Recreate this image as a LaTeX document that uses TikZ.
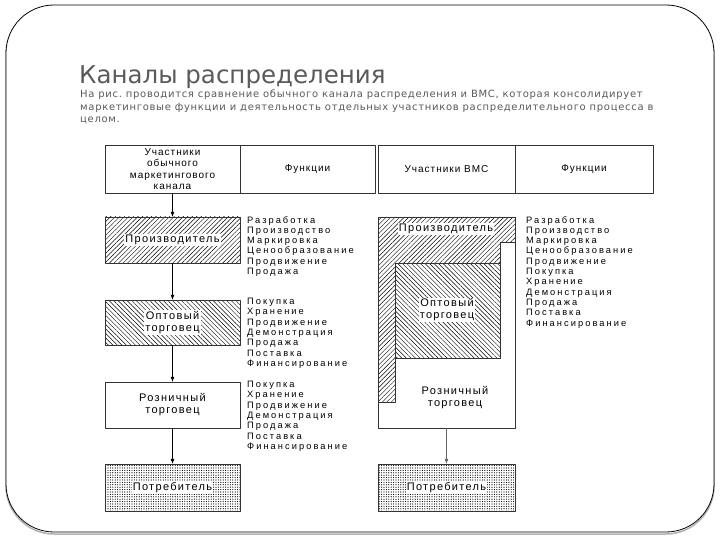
\documentclass[tikz,border=0pt]{standalone}
\usepackage{fontspec}
\setmainfont{DejaVu Sans}
\newfontfamily\boxfont[LetterSpace=10]{Liberation Sans}
\newfontfamily\tagfont[LetterSpace=12]{Liberation Sans}
\newfontfamily\listfont[LetterSpace=22]{Liberation Sans}
\newfontfamily\notefont[LetterSpace=7]{DejaVu Sans}
\usetikzlibrary{patterns.meta,arrows.meta}
\definecolor{slidegray}{RGB}{90,90,90}
\frenchspacing
\tikzset{
  cell/.style={draw=black!80, fill=white, minimum width=135pt, minimum height=48pt, inner sep=0pt, align=center, font=\boxfont\fontsize{10}{11.5}\selectfont},
  unit/.style={draw=black!80, minimum width=135pt, minimum height=46pt, inner sep=0pt},
  tag/.style={fill=white, inner sep=1pt, align=center, font=\tagfont\fontsize{11}{12}\selectfont},
  funcs/.style={anchor=north west, align=left, inner sep=0pt, font=\listfont\fontsize{9.3}{10.3}\selectfont},
  flow/.style={-{Latex[length=5pt,width=4pt]}, line width=0.6pt},
  neline/.style={pattern={Lines[angle=45,distance=3.2pt,line width=0.45pt]}},
  nwline/.style={pattern={Lines[angle=-45,distance=3.2pt,line width=0.45pt]}},
  dotfill/.style={pattern={Dots[distance=2.4pt,radius=0.6pt]}},
}
\begin{document}
\begin{tikzpicture}[x=1pt,y=-1pt,line join=round]
\useasboundingbox (0,0) rectangle (720,540);
% Slide
\draw[gray!60, line width=1.5pt, rounded corners=48pt] (6,7) rectangle (714,534);
\draw[fill=white, line width=0.8pt, rounded corners=48pt] (6,5) rectangle (714,532);
\node[anchor=base west, inner sep=0pt, text=slidegray, font=\fontsize{24.5}{29}\selectfont] (title) at (79,84) {Каналы распределения};
\node[anchor=north west, inner sep=0pt, align=left, text=slidegray, font=\notefont\fontsize{10}{12.5}\selectfont] (note) at (80,90)
  {На рис. проводится сравнение обычного канала распределения и ВМС, которая консолидирует\\
   маркетинговые функции и деятельность отдельных участников распределительного процесса в\\
   целом.};

% Header
\node[cell] (chA) at (172.5,169) {Участники\\обычного\\маркетингового\\канала};
\node[cell] (chB) at (307.5,169) {Функции};
\node[cell, minimum width=137pt] (vmA) at (446.5,169) {Участники ВМС};
\node[cell, minimum width=138pt] (vmB) at (584,169) {Функции};

% Conventional channel
\node[unit, neline] (prodA) at (172.5,240) {};
\node[tag] at (prodA) {Производитель};
\node[unit, nwline, minimum height=45pt] (wholeA) at (172.5,322.5) {};
\node[tag] at (wholeA) {Оптовый\\торговец};
\node[unit, fill=white] (retA) at (172.5,405) {};
\node[tag] at (retA) {Розничный\\торговец};
\node[unit, dotfill, minimum height=47pt] (consA) at (172.5,487.5) {};
\node[tag] at (consA) {Потребитель};
\draw[flow] (chA) -- (prodA);
\draw[flow] (prodA) -- (wholeA);
\draw[flow] (wholeA) -- (retA);
\draw[flow] (retA) -- (consA);

\node[funcs] (fnProd) at (247,216) {Разработка\\Производство\\Маркировка\\Ценообразование\\Продвижение\\Продажа};
\node[funcs] (fnWhole) at (247,298) {Покупка\\Хранение\\Продвижение\\Демонстрация\\Продажа\\Поставка\\Финансирование};
\node[funcs] (fnRet) at (247,381) {Покупка\\Хранение\\Продвижение\\Демонстрация\\Продажа\\Поставка\\Финансирование};

% VMS
\node[unit, fill=white, minimum width=137pt, minimum height=211pt] (retB) at (446.5,322.5) {};
\draw[black!80, neline] (378,217) -- (515,217) -- (515,242) -- (500,242) -- (500,263) -- (395,263) -- (395,402) -- (378,402) -- cycle;
\node[unit, nwline, minimum width=105pt, minimum height=95pt] (wholeB) at (447.5,310.5) {};
\node[tag] (prodB) at (446,229) {Производитель};
\node[tag] at (447,310) {Оптовый\\торговец};
\node[tag] at (455,398) {Розничный\\торговец};
\node[unit, dotfill, minimum width=137pt, minimum height=47pt] (consB) at (446.5,487.5) {};
\node[tag] at (consB) {Потребитель};
\draw[flow, black!60] (retB) -- (consB);

\node[funcs] (fnVms) at (526,216) {Разработка\\Производство\\Маркировка\\Ценообразование\\Продвижение\\Покупка\\Хранение\\Демонстрация\\Продажа\\Поставка\\Финансирование};
\end{tikzpicture}
\end{document}
